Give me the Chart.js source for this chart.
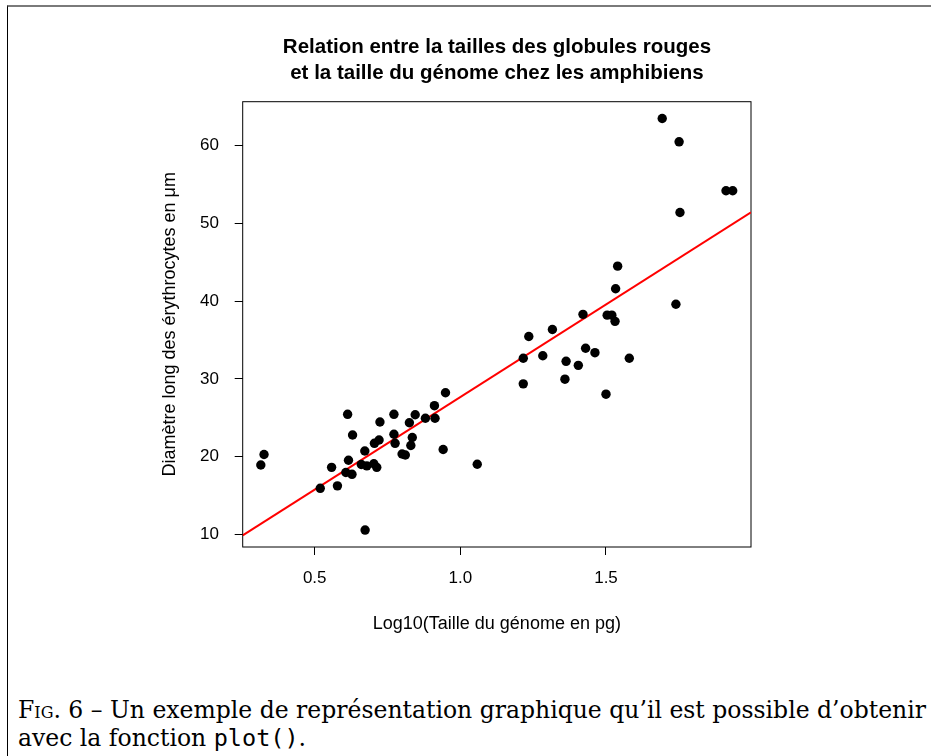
<!DOCTYPE html>
<html>
<head>
<meta charset="utf-8">
<script src="https://cdn.jsdelivr.net/npm/chart.js@4.4.1/dist/chart.umd.min.js"></script>
<style>
  html, body { margin: 0; padding: 0; background: #fff; width: 931px; height: 756px; overflow: hidden; }
  #frame { position: absolute; left: 7px; top: 5px; width: 940px; height: 760px;
           border-top: 2px solid #7a7a7a; border-left: 1px solid #000; box-sizing: border-box; }
  #c { position: absolute; left: 0; top: 0; }
  #title { position: absolute; left: 197px; width: 600px; top: 33px; text-align: center;
           font-family: 'Liberation Sans', Arial, Helvetica, sans-serif; font-weight: bold;
           font-size: 20.5px; line-height: 26px; color: #000; white-space: nowrap; }
  .cap { position: absolute; left: 18px; font-family: "DejaVu Serif", "Liberation Serif", serif;
         font-size: 23.5px; color: #000; white-space: nowrap; line-height: 1; }
  .sc { font-variant: small-caps; }
  .tt { font-family: "DejaVu Sans Mono", "Liberation Mono", monospace; }
</style>
</head>
<body>
<div id="frame"></div>
<canvas id="c" width="931" height="680"></canvas>
<div id="title"></div>
<div class="cap" id="cap1" style="top:699px;"><span class="sc">Fig.</span> 6 – Un exemple de représentation graphique qu’il est possible d’obtenir</div>
<div class="cap" id="cap2" style="top:727px;">avec la fonction <span class="tt">plot()</span>.</div>
<script>
// ---- data ----
const genomeLog10 = [
  1.693, 1.751, 1.912, 1.935, 1.754, 1.540, 1.533, 1.740, 1.421, 1.504,
  1.520, 1.531, 1.316, 1.235, 1.216, 1.283, 1.363, 1.405, 1.430, 1.462,
  1.580, 1.216, 1.359, 1.500, 0.949, 0.911, 0.880, 0.913, 0.845, 0.772,
  0.613, 0.724, 0.825, 0.630, 0.772, 0.835, 0.721, 0.705, 0.776, 0.830,
  0.941, 0.672, 0.800, 0.811, 0.616, 0.326, 0.315, 0.558, 0.660, 0.679,
  0.703, 0.713, 0.607, 0.628, 1.058, 0.519, 0.578, 0.673
];
const erythroDiam = [
  63.5, 60.5, 54.2, 54.2, 51.4, 44.5, 41.6, 39.6, 38.3, 38.2,
  38.2, 37.4, 36.35, 35.45, 32.65, 32.98, 32.26, 31.74, 33.94, 33.37,
  32.65, 29.36, 29.96, 28.03, 28.22, 26.55, 24.93, 24.93, 25.38, 25.44,
  25.44, 24.45, 24.36, 22.78, 22.87, 22.46, 22.13, 21.71, 21.71, 21.43,
  20.91, 20.72, 20.33, 20.20, 19.53, 20.27, 18.92, 18.62, 18.98, 18.81,
  19.08, 18.62, 17.95, 17.72, 19.02, 15.92, 16.24, 10.55
];
const fitCoef = [3.83, 23.83];          // intercept, slope of the red regression line
const xTickValues = [0.5, 1.0, 1.5];
const yTickValues = [10, 20, 30, 40, 50, 60];
const xLimits = [0.2528, 1.9978];
const yLimits = [8.37, 65.66];
const titleLines = ["Relation entre la tailles des globules rouges", "et la taille du génome chez les amphibiens"];
const xLabel = "Log10(Taille du génome en pg)";
const yLabel = "Diamètre long des érythrocytes en μm";

document.getElementById('title').innerHTML = titleLines.join('<br>');

const points = genomeLog10.map((x, i) => ({ x: x, y: erythroDiam[i] }));
const fitLine = xLimits.map(x => ({ x: x, y: fitCoef[0] + fitCoef[1] * x }));

const FONT = "'Liberation Sans', Arial, Helvetica, sans-serif";

const boxPlugin = {
  id: 'box',
  beforeDatasetsDraw(chart) {
    const a = chart.chartArea, ctx = chart.ctx;
    ctx.save();
    ctx.strokeStyle = '#000';
    ctx.lineWidth = 1;
    ctx.strokeRect(a.left, a.top, a.right - a.left, a.bottom - a.top);
    ctx.restore();
  }
};

new Chart(document.getElementById('c'), {
  data: {
    datasets: [
      { type: 'line', data: fitLine, borderColor: '#ff0000', borderWidth: 2,
        pointRadius: 0, fill: false, tension: 0, order: 2 },
      { type: 'scatter', data: points, backgroundColor: '#000', borderColor: '#000',
        pointRadius: 4.7, borderWidth: 0, order: 1 }
    ]
  },
  options: {
    responsive: false, animation: false, devicePixelRatio: 1,
    layout: { padding: { left: 0, right: 180, top: 101.7, bottom: 33 } },
    plugins: {
      legend: { display: false }, tooltip: { enabled: false }, title: { display: false }
    },
    scales: {
      x: {
        type: 'linear', min: xLimits[0], max: xLimits[1],
        afterBuildTicks: s => { s.ticks = xTickValues.map(v => ({ value: v })); },
        afterFit: s => { s.height = 100; },
        grid: { drawOnChartArea: false, drawTicks: true, tickLength: 8, color: '#000' },
        border: { display: false },
        ticks: { padding: 12.8, color: '#000', font: { family: FONT, size: 17 },
                 maxRotation: 0, callback: v => Number(v).toFixed(1) },
        title: { display: true, text: xLabel, color: '#000', font: { family: FONT, size: 18 },
                 padding: { top: 0, bottom: 12.2 } }
      },
      y: {
        type: 'linear', min: yLimits[0], max: yLimits[1],
        afterBuildTicks: s => { s.ticks = yTickValues.map(v => ({ value: v })); },
        afterFit: s => { s.width = 242.7; },
        grid: { drawOnChartArea: false, drawTicks: true, tickLength: 8, color: '#000' },
        border: { display: false },
        ticks: { padding: 15.7, color: '#000', font: { family: FONT, size: 17 },
                 callback: v => String(v) },
        title: { display: true, text: yLabel, color: '#000', font: { family: FONT, size: 18 },
                 padding: { top: 159.2, bottom: 0 } }
      }
    }
  },
  plugins: [boxPlugin]
});
</script>
</body>
</html>
